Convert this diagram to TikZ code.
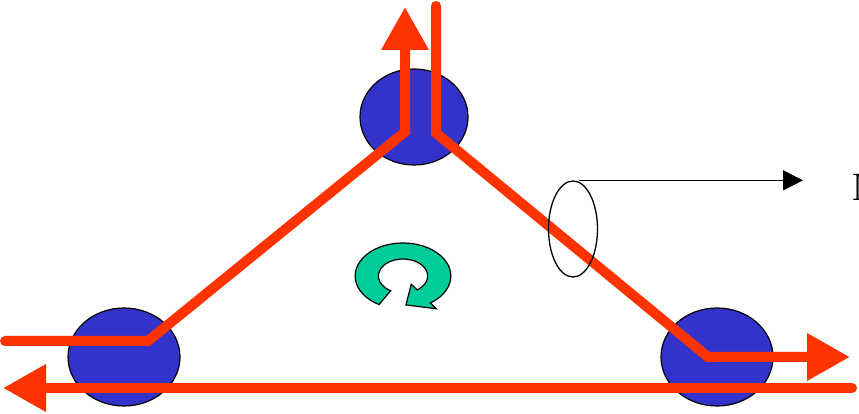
\documentclass[tikz,border=0pt]{standalone}
\usepackage{fontspec}
\setmainfont{Liberation Serif}
\usetikzlibrary{shapes.geometric,arrows.meta}
\definecolor{nodeblue}{HTML}{3333CC}
\definecolor{flowred}{HTML}{FF3300}
\definecolor{spingreen}{HTML}{00CC99}
\begin{document}
\begin{tikzpicture}[x=1pt,y=1pt,
  site/.style={ellipse,draw=black,line width=1.2pt,fill=nodeblue,inner sep=0pt},
  flow/.style={draw=flowred,line width=10pt,line cap=round,line join=miter},
  bigtip/.style={-{Triangle[length=43pt,width=45pt]}},
  probe/.style={ellipse,draw=black,line width=1.3pt,inner sep=0pt,minimum width=49pt,minimum height=96pt}]
\useasboundingbox (0,0) rectangle (859,414);
% nodes
\node[site,minimum width=108pt,minimum height=96pt] (top) at (414,297) {};
\node[site,minimum width=112pt,minimum height=98pt] (bl) at (124,57) {};
\node[site,minimum width=112pt,minimum height=98pt] (br) at (717,57) {};
% coordinates of the flows
\coordinate (aS) at (5,73);
\coordinate (aB) at (148,73);
\coordinate (aT) at (405,282);
\coordinate (aE) at (405,407);
\coordinate (bS) at (436,408);
\coordinate (bT) at (436,281);
\coordinate (bB) at (708,57);
\coordinate (bE) at (850,57);
\coordinate (cS) at (852,26);
\coordinate (cE) at (3,26);
% flows
\draw[flow,bigtip] (aS) -- (aB) -- (aT) -- (aE);
\draw[flow,bigtip] (bS) -- (bT) -- (bB) -- (bE);
\draw[flow,bigtip] (cS) -- (cE);
% probe ellipse and pointer
\node[probe] (pr) at (573,185) {};
\coordinate (ps) at ([xshift=6pt]pr.north);
\coordinate (pe) at (803,0 |- ps);
\draw[black,line width=1pt,-{Triangle[length=20pt,width=20pt]}] (ps) -- (pe);
\node[anchor=west,inner sep=0pt,font=\fontsize{40}{40}\selectfont] (lab) at (852,227) {N};
% rotation arrow
\begin{scope}[shift={(403,138)},xscale=1.45]
\fill[spingreen,draw=black,line width=1.2pt,line join=miter]
  (240:33) arc[start angle=240,end angle=-55,radius=33]
  -- (-55:40) -- (-86:29) -- (-55:10) -- (-55:17)
  arc[start angle=-55,end angle=240,radius=17] -- cycle;
\end{scope}
\end{tikzpicture}
\end{document}
